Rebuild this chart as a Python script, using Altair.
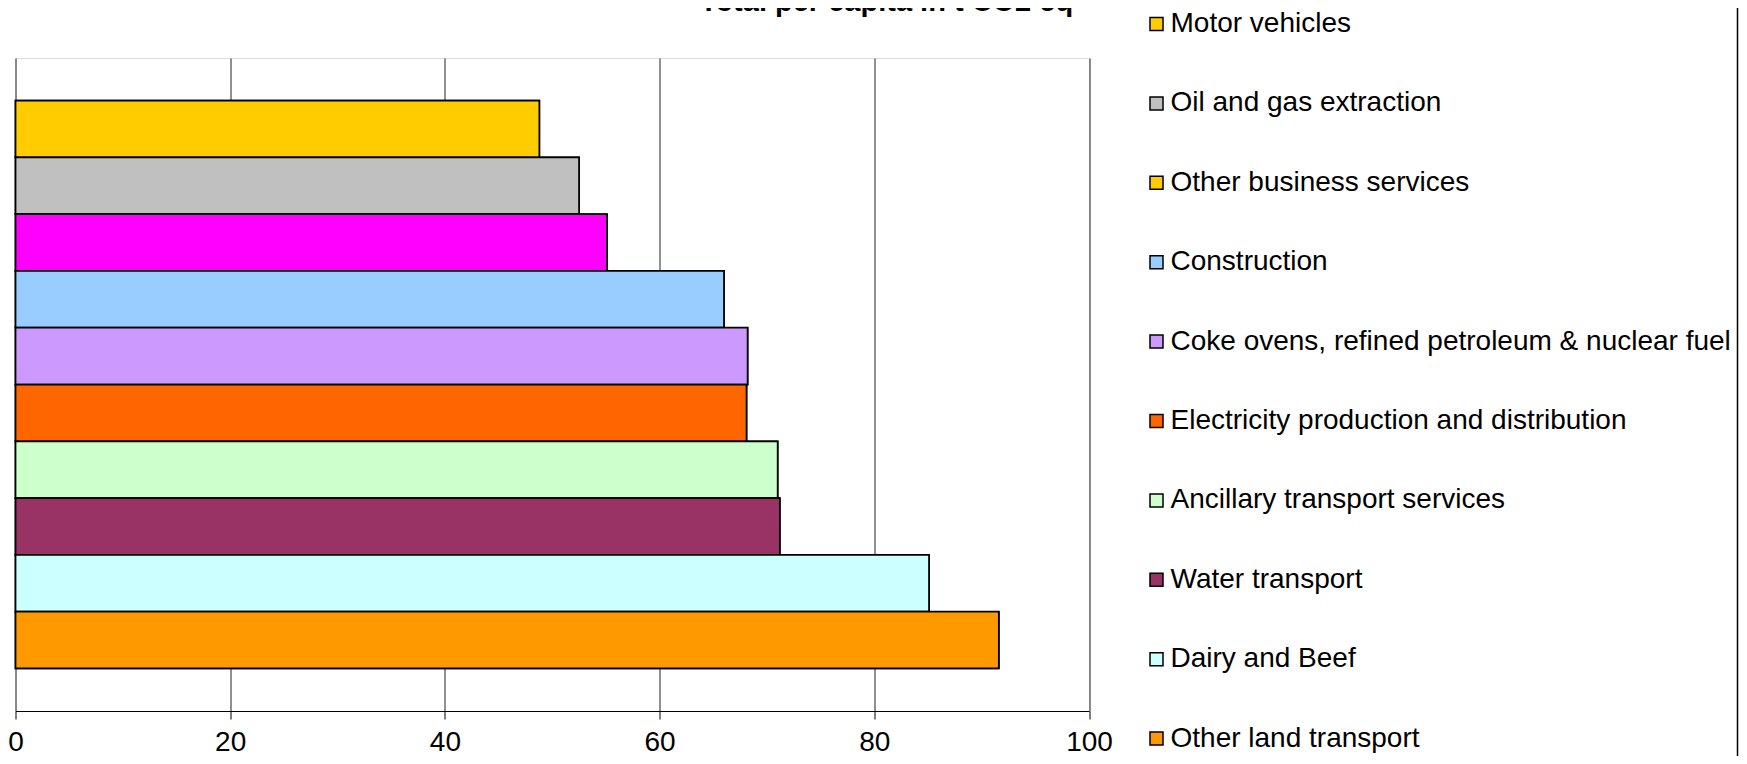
import altair as alt
import pandas as pd

# ---- data ----
series = [
    "Motor vehicles",
    "Oil and gas extraction",
    "Other business services",
    "Construction",
    "Coke ovens, refined petroleum & nuclear fuel",
    "Electricity production and distribution",
    "Ancillary transport services",
    "Water transport",
    "Dairy and Beef",
    "Other land transport",
]
values = [48.8, 52.5, 55.1, 66.0, 68.2, 68.1, 71.0, 71.2, 85.1, 91.6]
bar_colors = ["#FFCC00", "#C0C0C0", "#FF00FF", "#99CCFF", "#CC99FF",
              "#FF6600", "#CCFFCC", "#993366", "#CCFFFF", "#FF9900"]
legend_colors = ["#FFCC00", "#C0C0C0", "#FFCC00", "#99CCFF", "#CC99FF",
                 "#FF6600", "#CCFFCC", "#993366", "#CCFFFF", "#FF9900"]
x_ticks = [0, 20, 40, 60, 80, 100]
title_text = ["Total per capita in t CO2 eq"]

df = pd.DataFrame({"series": series, "value": values})

FONT = "Liberation Sans"

y_enc = alt.Y("series:N", sort=series,
              scale=alt.Scale(paddingInner=0, paddingOuter=0.75), axis=None)
x_enc = alt.X("value:Q",
              scale=alt.Scale(domain=[0, 100], nice=False, zero=True),
              axis=alt.Axis(values=x_ticks, title=None, grid=True,
                            gridColor="#222222", gridWidth=1, gridOpacity=1,
                            domainColor="black", tickColor="black", tickSize=8,
                            labelFontSize=28, labelFont=FONT, labelColor="black",
                            labelBaseline="alphabetic", labelPadding=31,
                            labelFlush=False))

legend_layer = alt.Chart(df).mark_bar(stroke="black", strokeWidth=1.5).encode(
    x=x_enc, y=y_enc,
    color=alt.Color("series:N", sort=series,
                    scale=alt.Scale(domain=series, range=legend_colors),
                    legend=alt.Legend(title=None, orient="none",
                                      legendX=1127, legendY=-48,
                                      symbolType="square", symbolSize=169,
                                      symbolStrokeColor="black", symbolStrokeWidth=1.5,
                                      symbolOpacity=1,
                                      labelFontSize=28, labelFont=FONT, labelColor="black",
                                      labelLimit=1000, labelOffset=0,
                                      rowPadding=51.4, padding=0)),
)

bars = alt.Chart(df).mark_bar(stroke="black", strokeWidth=1.75).encode(
    x=x_enc, y=y_enc,
    fill=alt.Fill("series:N", scale=alt.Scale(domain=series, range=bar_colors),
                  legend=None),
)

border = alt.Chart(pd.DataFrame({"a": [0]})).mark_rule(color="black", strokeWidth=1.5).encode(
    x=alt.value(1722), y=alt.value(-50), y2=alt.value(698)
)

# chart title, sitting (as in the reference) mostly above the top edge
title = alt.Chart(pd.DataFrame({"t": title_text})).mark_text(
    align="center", baseline="alphabetic", fontSize=29, fontWeight="bold",
    font=FONT, color="black"
).encode(text="t:N", x=alt.value(871), y=alt.value(-47))

chart = alt.layer(legend_layer, bars, border, title).properties(
    width=1073.5, height=653,
    autosize=alt.AutoSizeParams(type="none"),
    padding={"left": 7.5, "top": 50, "right": 650, "bottom": 45},
).configure_view(stroke="black", strokeWidth=1).configure(font=FONT)

chart.save("out.html", embed_options={"renderer": "svg", "actions": False})
